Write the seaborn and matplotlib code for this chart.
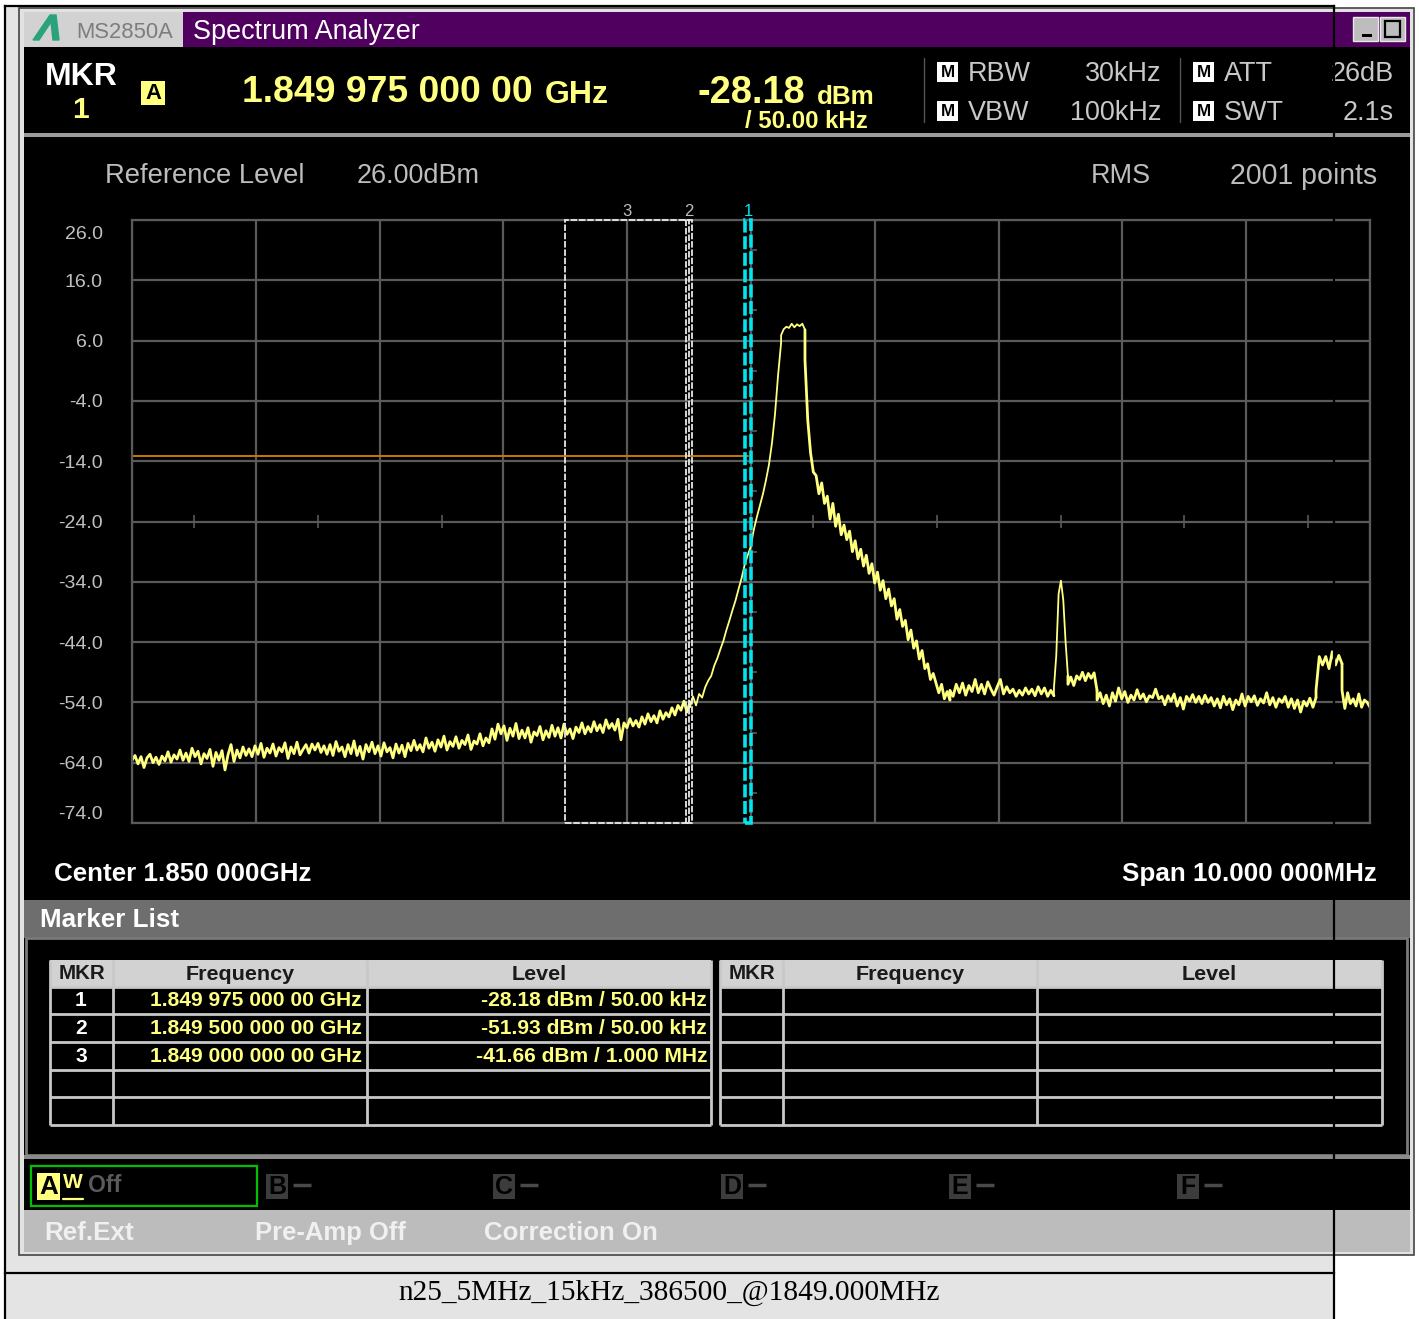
import numpy as np
import pandas as pd
import seaborn as sns
import matplotlib.pyplot as plt
from matplotlib.patches import Rectangle, Polygon
from matplotlib.transforms import ScaledTranslation

# spectrum trace, in dBm. each block has its own freq span (MHz)
floor_left = [
    -63.6, -62.8, -64.2, -63.0, -64.8, -63.2, -62.6, -64.0, -63.1, -64.3,
    -62.9, -63.7, -62.2, -63.9, -62.7, -63.4, -61.9, -63.6, -62.4, -63.8,
    -61.6, -63.0, -62.1, -64.2, -62.5, -63.3, -61.8, -64.6, -62.3, -63.6,
    -62.0, -65.2, -62.7, -61.0, -63.8, -61.9, -63.2, -61.4, -62.8, -61.7,
    -63.0, -61.2, -62.6, -60.8, -63.1, -61.6, -62.4, -60.9, -62.9, -61.5,
    -62.2, -60.7, -63.3, -61.4, -62.5, -60.6, -62.7, -61.8, -61.0, -62.4,
    -60.9, -61.9, -60.8, -62.3, -61.2, -62.6, -61.0, -62.8, -60.5, -62.1,
    -61.4, -63.0, -61.0, -62.5, -60.4, -62.8, -61.3, -63.4, -61.0, -62.2,
    -60.6, -62.5, -61.2, -62.9, -60.7, -62.2, -61.5, -63.2, -60.9, -62.4,
    -61.1, -63.0, -60.8, -62.0, -60.3, -61.9, -61.0, -62.2, -59.9, -61.6,
    -60.6, -62.1, -60.2, -61.4, -59.6, -61.9, -60.5, -61.3, -59.7, -61.6,
    -60.3, -61.0, -59.4, -61.8, -60.4, -60.9, -59.2, -61.2, -59.9, -60.7,
    -58.4, -60.1, -57.6, -59.2, -57.9, -60.3, -58.3, -59.6, -57.5, -60.0,
    -58.6, -59.9, -58.2, -60.6, -58.9, -59.5, -58.0, -60.2, -58.7, -59.8,
    -57.8, -59.6, -58.2, -59.9, -57.6, -59.3, -58.4, -60.0, -58.1, -59.0,
    -57.4, -59.2, -58.0, -58.9, -57.2, -58.7, -57.7, -59.0, -56.9, -58.3,
    -57.5, -58.6, -56.8, -60.2, -57.4, -58.2, -56.7, -57.9, -57.0, -58.1,
    -56.4, -57.6, -55.9, -57.2, -56.2, -57.4, -55.4, -56.8, -55.7, -56.4,
    -54.9, -56.1, -54.5, -55.3, -53.8, -55.6, -53.9,
]
rise = [
    -54.8, -53.0, -54.5, -52.6, -53.2, -51.5, -50.4, -49.6, -47.9, -46.7,
    -45.2, -43.8, -42.0, -40.4, -38.7, -37.1, -35.2, -33.4, -31.2, -29.6,
    -28.2, -25.4, -23.3, -21.4, -19.5, -17.2, -14.6, -11.0, -6.2, 0.2, 5.6,
]
top = [6.9, 7.9, 8.3, 8.1, 8.8, 8.2, 8.7, 8.4, 8.8, 7.8]
fall = [
    2.8, -7.2, -12.6, -15.8, -16.4, -19.4, -17.6, -21.0, -19.8, -23.6,
    -21.0, -24.8, -22.8, -26.2, -24.6, -27.0, -25.6, -29.0, -27.2, -30.2,
    -28.6, -31.4, -29.6, -32.6, -31.0, -34.2, -32.4, -35.4, -33.8, -36.8,
    -35.2, -38.0, -36.8, -40.2, -38.6, -41.4, -40.4, -43.6, -42.0, -45.0,
    -43.8, -46.8, -45.4, -48.4, -47.6, -50.2, -49.2, -50.8, -52.4, -51.0,
    -53.4, -52.2, -53.6,
]
floor_mid = [
    -52.0, -53.0, -51.0, -52.4, -50.8, -52.8, -51.2, -52.2, -50.2, -52.4,
    -51.0, -52.6, -50.6, -51.8, -52.8, -51.4, -50.2, -52.6, -51.4, -52.4,
    -51.8, -53.0, -52.0, -52.8, -51.6, -52.6, -51.8, -52.9, -51.4, -52.6,
    -51.6, -53.0, -52.0, -52.9,
]
spike = [-51.6, -46.2, -36.0, -33.8, -37.0, -44.0, -49.6]
shelf = [-51.0, -49.8, -51.2, -49.6, -50.2, -49.0, -50.4, -49.2, -50.0, -49.1, -52.0]
floor_right = [
    -53.6, -52.4, -54.2, -52.8, -54.6, -52.4, -53.8, -51.6, -53.4, -52.2,
    -54.0, -52.8, -53.6, -51.9, -53.4, -52.6, -53.9, -52.9, -53.2, -51.8,
    -53.4, -53.0, -54.4, -52.9, -53.8, -52.6, -54.6, -53.2, -55.1, -53.0,
    -53.8, -52.7, -54.0, -53.0, -54.2, -52.8, -54.0, -53.2, -54.6, -53.4,
    -54.9, -53.0, -54.4, -53.4, -55.2, -53.6, -54.4, -52.6, -54.6, -53.0,
    -53.9, -52.9, -54.5, -53.4, -54.1, -52.4, -54.4, -53.2, -54.8, -53.4,
    -54.0, -53.0, -54.8, -53.4, -55.0, -53.6, -55.6, -53.8, -54.6, -53.3,
    -54.8, -53.2,
]
bump = [-52.0, -46.4, -47.8, -46.4, -48.4, -45.6, -47.8, -46.2, -47.6]
floor_end = [-52.0, -55.0, -52.4, -54.2, -53.4, -54.6, -52.6, -54.8, -53.6, -54.0, -54.8]

# start MHz, stop MHz, levels, drawn as a noisy band or not
trace_blocks = [
    (1845.000, 1849.507, floor_left, True),
    (1849.507, 1850.243, rise, False),
    (1850.243, 1850.436, top, False),
    (1850.436, 1851.607, fall, True),
    (1851.607, 1852.447, floor_mid, True),
    (1852.447, 1852.560, spike, False),
    (1852.560, 1852.795, shelf, True),
    (1852.795, 1854.564, floor_right, True),
    (1854.564, 1854.774, bump, True),
    (1854.774, 1855.000, floor_end, True),
]

limit_freq = [1845.0, 1849.975]
limit_level = [-13.1, -13.1]

level_ticks = [26, 16, 6, -4, -14, -24, -34, -44, -54, -64, -74]
freq_ticks = [1845, 1846, 1847, 1848, 1849, 1850, 1851, 1852, 1853, 1854, 1855]

marker_ids = ["1", "2", "3"]
marker_freq = [1849.975, 1849.5, 1849.0]
marker_width = [0.05, 0.05, 1.0]
marker_freq_text = ["1.849 975 000 00 GHz", "1.849 500 000 00 GHz", "1.849 000 000 00 GHz"]
marker_level_text = ["-28.18 dBm / 50.00 kHz", "-51.93 dBm / 50.00 kHz", "-41.66 dBm / 1.000 MHz"]

sns.set_theme(style="dark")
plt.rcParams["font.family"] = ["Liberation Sans", "DejaVu Sans"]

W, H = 1419, 1319
fig = plt.figure(figsize=(W / 100, H / 100), dpi=100, facecolor="white")


def pixel_axes(z):
    a = fig.add_axes([0, 0, 1, 1], zorder=z)
    a.set_xlim(0, W)
    a.set_ylim(H, 0)
    a.axis("off")
    a.patch.set_alpha(0)
    return a


bg = pixel_axes(0)
front = pixel_axes(5)


def box(a, x0, y0, x1, y1, fc, ec="none", lw=0, **kw):
    a.add_patch(Rectangle((x0, y0), x1 - x0, y1 - y0, facecolor=fc, edgecolor=ec, linewidth=lw, **kw))


def txt(x, y, s, px, color, ha="left", weight="normal", a=bg, **kw):
    a.text(x, y + px * 0.07, s, fontsize=px * 0.72, color=color, ha=ha, va="center", fontweight=weight, **kw)


# pale page and instrument window
box(bg, 5, 6, 1334, 1319, "#e4e4e4")
box(bg, 19, 8, 1414, 1255, "#e2e2e2", ec="#444444", lw=1.2)
box(bg, 24, 12, 1410, 1252, "#000000")
box(bg, 24, 12, 183, 47, "#d2d2d2")
box(bg, 183, 12, 1410, 47, "#50005e")
bg.add_patch(Polygon([(33, 40), (39, 40), (51, 22), (53, 40), (59, 40), (56, 15), (50, 15)], color="#2aa37c"))
txt(76, 31, "MS2850A", 22, "#7d7d7d")
txt(193, 30, "Spectrum Analyzer", 27, "white")
box(bg, 1353, 17, 1378, 41, "#bdbdbd", ec="#e8e8e8", lw=1)
box(bg, 1362, 34, 1372, 37, "#000000")
box(bg, 1380, 17, 1405, 41, "#bdbdbd", ec="#e8e8e8", lw=1)
box(bg, 1385, 21, 1400, 37, "none", ec="#000000", lw=1.6)

# marker readout
box(bg, 24, 133, 1410, 137, "#9a9a9a")
txt(45, 75, "MKR", 32, "white", weight="bold")
txt(81, 108, "1", 30, "#ffff80", ha="center", weight="bold")
box(bg, 141, 81, 165, 105, "#ffff80")
txt(153, 92, "A", 22, "#000000", ha="center", weight="bold")
txt(242, 90, "1.849 975 000 00", 37.4, "#ffff80", weight="bold")
txt(545, 93, "GHz", 32, "#ffff80", weight="bold")
txt(805, 90, "-28.18", 38, "#ffff80", ha="right", weight="bold")
txt(817, 95, "dBm", 26, "#ffff80", weight="bold")
txt(868, 120, "/ 50.00 kHz", 24, "#ffff80", ha="right", weight="bold")
bg.plot([924, 924], [58, 122], color="#555555", lw=1)
bg.plot([1180, 1180], [58, 122], color="#555555", lw=1)
for x0, labels in [(937, ["RBW", "VBW"]), (1193, ["ATT", "SWT"])]:
    for y0, lab in zip([72, 111], labels):
        box(bg, x0, y0 - 10, x0 + 21, y0 + 10, "white")
        txt(x0 + 10.5, y0 - 1, "M", 17, "#000000", ha="center", weight="bold")
        txt(x0 + 31, y0, lab, 27, "#c8c8c8")
txt(1162, 72, "30kHz", 27, "#c8c8c8", ha="right")
txt(1162, 111, "100kHz", 27, "#c8c8c8", ha="right")
txt(1394, 72, "26dB", 27, "#c8c8c8", ha="right")
txt(1394, 111, "2.1s", 27, "#c8c8c8", ha="right")

txt(105, 174, "Reference Level", 27.4, "#bdbdbd")
txt(357, 174, "26.00dBm", 27, "#bdbdbd")
txt(1091, 174, "RMS", 27, "#bdbdbd")
txt(1377, 174, "2001 points", 28.5, "#bdbdbd", ha="right")
txt(54, 872, "Center 1.850 000GHz", 26, "white", weight="bold")
txt(1377, 872, "Span 10.000 000MHz", 26, "white", ha="right", weight="bold")

# marker list panel
box(bg, 24, 900, 1410, 938, "#6e6e6e")
txt(40, 918, "Marker List", 26, "white", weight="bold")
box(bg, 26, 938, 1407, 1155, "#000000", ec="#7a7a7a", lw=2)
box(bg, 24, 1155, 1410, 1159, "#8a8a8a")

row_y = [987, 1014, 1042, 1070, 1097, 1125]
for cols, heads in [([50, 113, 367, 711], ["MKR", "Frequency", "Level"]),
                    ([720, 783, 1037, 1382], ["MKR", "Frequency", "Level"])]:
    box(bg, cols[0], 960, cols[-1], 987, "#d2d2d2")
    for i, head in enumerate(heads):
        size = 20.5 if head == "MKR" else 21.5
        txt((cols[i] + cols[i + 1]) / 2, 972.5, head, size, "#1a1a1a", ha="center", weight="bold")
    for y in row_y:
        bg.plot([cols[0], cols[-1]], [y, y], color="#c8c8c8", lw=2, solid_capstyle="butt")
    for x in cols:
        bg.plot([x, x], [960, 1125], color="#c8c8c8", lw=2, solid_capstyle="butt")

for i in range(3):
    y = (row_y[i] + row_y[i + 1]) / 2 - 1.4
    txt(81, y, marker_ids[i], 21, "white", ha="center", weight="bold")
    txt(362, y, marker_freq_text[i], 21, "#ffff80", ha="right", weight="bold")
    txt(707, y, marker_level_text[i], 21, "#ffff80", ha="right", weight="bold")

# trace tabs
box(bg, 31, 1166, 257, 1206, "none", ec="#00c000", lw=1.6)
box(bg, 37, 1173, 60, 1200, "#ffff80")
txt(48.5, 1185, "A", 26, "#000000", ha="center", weight="bold")
txt(73, 1181, "W", 21, "#ffff80", ha="center", weight="bold")
bg.plot([63, 83], [1199, 1199], color="#ffff80", lw=1.6)
txt(88, 1184, "Off", 23, "#5a5a5a", weight="bold")
for x0, lab in zip([266, 493, 721, 949, 1177], ["B", "C", "D", "E", "F"]):
    box(bg, x0, 1174, x0 + 22, 1199, "#3c3c3c")
    txt(x0 + 11, 1185, lab, 25, "#000000", ha="center", weight="bold")
    bg.plot([x0 + 27, x0 + 45], [1185, 1185], color="#4a4a4a", lw=2.5, solid_capstyle="butt")

# status bar
box(bg, 24, 1210, 1410, 1252, "#bcbcbc")
txt(44, 1231, "Ref.Ext", 26, "#f0f0f0", weight="bold")
txt(255, 1231, "Pre-Amp Off", 25.6, "#f0f0f0", weight="bold")
txt(484, 1231, "Correction On", 25.9, "#f0f0f0", weight="bold")

# plot
x0, x1, y0, y1 = 132, 1370, 220, 823
ax = fig.add_axes([x0 / W, 1 - y1 / H, (x1 - x0) / W, (y1 - y0) / H], zorder=2, facecolor="#000000")
grid_col = "#5a5a5a"
ax.set_xlim(1845, 1855)
ax.set_ylim(-74, 26)
ax.set_xticks(freq_ticks)
ax.set_yticks(level_ticks)
ax.set_xticklabels([])
ax.set_yticklabels([f"{v:.1f}" for v in level_ticks])
ax.grid(True, color=grid_col, lw=1.6)
ax.tick_params(axis="both", length=0, colors="#c0c0c0")
ax.tick_params(axis="y", pad=21, labelsize=19.5 * 0.72)
for s in ax.spines.values():
    s.set_color(grid_col)
    s.set_linewidth(1.6)
    s.set_visible(True)
labs = ax.get_yticklabels()
labs[0].set_verticalalignment("top")
labs[0].set_transform(labs[0].get_transform() + ScaledTranslation(0, -4 / 72, fig.dpi_scale_trans))
labs[-1].set_verticalalignment("bottom")

# half-division ticks along the centre cross
ax.vlines([1845.5 + i for i in range(10)], -25.1, -22.9, color=grid_col, lw=1.2)
ax.hlines([21 - 10 * i for i in range(10)], 1850, 1850.05, color=grid_col, lw=1.2)

sns.lineplot(x=limit_freq, y=limit_level, ax=ax, color="#c87800", lw=1.4)

# each block picks up from the last point of the one before, so the trace stays joined
prev_f, prev_l = None, None
for a, b, levels, noisy in trace_blocks:
    f = np.linspace(a, b, len(levels))
    part = pd.DataFrame({"freq": f, "level": levels})
    if prev_f is not None:
        part = pd.concat([pd.DataFrame({"freq": [prev_f], "level": [prev_l]}), part], ignore_index=True)
    sns.lineplot(data=part, x="freq", y="level", ax=ax, estimator=None, sort=False,
                 color="#ffff80", lw=2.0 if noisy else 1.3)
    prev_f, prev_l = f[-1], levels[-1]
ax.set_xlabel("")
ax.set_ylabel("")

for mid, wid, mid_id in zip(marker_freq, marker_width, marker_ids):
    col = "#00e5ee" if mid_id == "1" else "#e8e8e8"
    lw = 2.6 if mid_id == "1" else 1.3
    ax.add_patch(Rectangle((mid - wid / 2, -74), wid, 100, fill=False, edgecolor=col, lw=lw,
                           linestyle=(0, (3.6, 1)), clip_on=False, zorder=4))
    ax.text(mid, 26.2, mid_id, color=col if mid_id == "1" else "#bdbdbd", fontsize=12,
            ha="center", va="bottom")

# black frame of the page, lying over the window
for xs, ys in [([5, 1334], [6, 6]), ([5, 5], [6, 1319]), ([1334, 1334], [6, 1319]), ([5, 1334], [1273, 1273])]:
    front.plot(xs, ys, color="#000000", lw=1.6, solid_capstyle="projecting")
front.text(669, 1293, "n25_5MHz_15kHz_386500_@1849.000MHz", fontsize=29.4 * 0.72, color="#000000",
           family="Liberation Serif", ha="center", va="center")

fig.savefig("out.png", dpi=100)
